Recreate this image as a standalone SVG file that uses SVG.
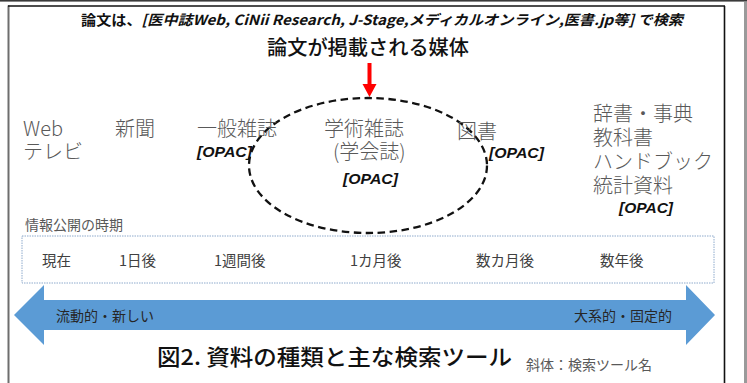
<svg xmlns="http://www.w3.org/2000/svg" width="747" height="383" viewBox="0 0 747 383">
<defs>
<style>
.jp{font-family:"Noto Sans CJK JP","Liberation Sans",sans-serif;}
.media{font-family:"Noto Sans CJK JP","Liberation Sans",sans-serif;font-size:20px;font-weight:300;fill:#595959;}
.opac{font-family:"Liberation Sans","Noto Sans CJK JP",sans-serif;font-size:15px;font-weight:bold;font-style:italic;fill:#111;}
.time{font-family:"Noto Sans CJK JP","Liberation Sans",sans-serif;font-size:14.5px;fill:#404040;}
.arrowlbl{font-family:"Noto Sans CJK JP","Liberation Sans",sans-serif;font-size:14px;fill:#262626;}
</style>
</defs>
<rect x="0" y="0" width="747" height="383" fill="#ffffff"/>
<g id="frame">
<rect x="0" y="0" width="747" height="1.6" fill="#3a3a3a"/>
<rect x="7.5" y="5.5" width="2" height="378" fill="#6e6e6e"/>
<line x1="8" y1="6" x2="725" y2="6" stroke="#111" stroke-width="1.5"/>
<line x1="724.5" y1="6" x2="724.5" y2="383" stroke="#111" stroke-width="1.6"/>
<rect x="744" y="2" width="3" height="381" fill="#9a9a9a"/>
</g>
<g id="title-search">
<text class="jp" x="81" y="25" font-size="14" font-weight="bold" fill="#111" textLength="602" lengthAdjust="spacingAndGlyphs">論文は、<tspan font-style="italic">[医中誌Web, CiNii Research, J-Stage,メディカルオンライン,医書.jp等] で検索</tspan></text>
</g>
<g id="title-media">
<text class="jp" x="267" y="55" font-size="20" font-weight="500" fill="#111" textLength="202" lengthAdjust="spacingAndGlyphs">論文が掲載される媒体</text>
</g>
<g id="connectors">
<polygon points="367.5,63 371.5,63 371.5,84 376.5,84 369.5,97 362.5,84 367.5,84" fill="#ff0000"/>
<ellipse cx="368" cy="165.5" rx="119" ry="67.5" fill="none" stroke="#111" stroke-width="2.3" stroke-dasharray="7.5,4.5"/>
</g>
<g id="node-web">
<text class="media" x="23" y="136">Web</text>
<text class="media" x="23" y="159">テレビ</text>
</g>
<g id="node-newspaper">
<text class="media" x="115" y="136">新聞</text>
</g>
<g id="node-magazine">
<text class="media" x="197" y="136">一般雑誌</text>
<text class="opac" x="197" y="157" textLength="55" lengthAdjust="spacingAndGlyphs">[OPAC]</text>
</g>
<g id="node-journal">
<text class="media" x="324" y="136">学術雑誌</text>
<text class="media" x="333" y="159">(学会誌)</text>
<text class="opac" x="343" y="184" textLength="55" lengthAdjust="spacingAndGlyphs">[OPAC]</text>
</g>
<g id="node-book">
<text class="media" x="457" y="139">図書</text>
<text class="opac" x="489" y="158" textLength="55" lengthAdjust="spacingAndGlyphs">[OPAC]</text>
</g>
<g id="node-reference">
<text class="media" x="593" y="121">辞書・事典</text>
<text class="media" x="593" y="145">教科書</text>
<text class="media" x="593" y="169">ハンドブック</text>
<text class="media" x="593" y="193">統計資料</text>
<text class="opac" x="619" y="213" textLength="54" lengthAdjust="spacingAndGlyphs">[OPAC]</text>
</g>
<g id="timeline">
<text class="jp" x="25" y="230" font-size="14" fill="#595959">情報公開の時期</text>
<rect x="22" y="236" width="692" height="47" fill="#ffffff" stroke="#8eaacc" stroke-width="1" stroke-dasharray="1.5,1"/>
<text class="time" x="42" y="266">現在</text>
<text class="time" x="119" y="266">1日後</text>
<text class="time" x="214" y="266">1週間後</text>
<text class="time" x="350" y="266">1カ月後</text>
<text class="time" x="476" y="266">数カ月後</text>
<text class="time" x="600" y="266">数年後</text>
</g>
<g id="double-arrow">
<polygon points="14,315 44,285 44,300 686,300 686,285 715,315 686,345 686,330 44,330 44,345" fill="#5b9bd5"/>
<text class="arrowlbl" x="56" y="321">流動的・新しい</text>
<text class="arrowlbl" x="574" y="321">大系的・固定的</text>
</g>
<g id="caption">
<text class="jp" x="157" y="365" font-size="22" font-weight="500" fill="#111" textLength="355" lengthAdjust="spacingAndGlyphs">図2. 資料の種類と主な検索ツール</text>
<text class="jp" x="526" y="370" font-size="14" fill="#595959">斜体：検索ツール名</text>
</g>
</svg>
